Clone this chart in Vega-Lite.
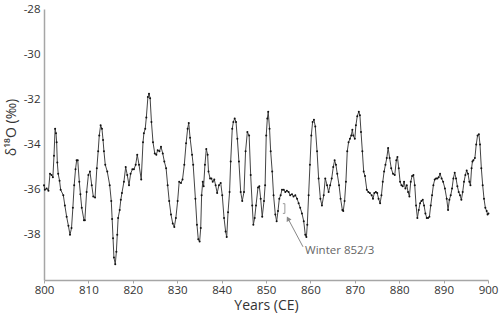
{
  "$schema": "https://vega.github.io/schema/vega-lite/v6.json",
  "width": 444,
  "height": 271,
  "autosize": {"type": "none"},
  "padding": {"left": 44, "top": 9, "right": 12, "bottom": 38},
  "background": "white",
  "config": {"view": {"stroke": null}, "font": "Open Sans"},
  "datasets": {
    "series": [
      {"year": 800.0, "value": -35.8}, {"year": 800.2, "value": -36.0}, {"year": 800.6, "value": -35.95}, {"year": 801.0, "value": -36.05},
      {"year": 801.35, "value": -35.3}, {"year": 801.7, "value": -35.35}, {"year": 802.0, "value": -35.45}, {"year": 802.25, "value": -34.5},
      {"year": 802.5, "value": -33.3}, {"year": 802.7, "value": -33.5}, {"year": 802.85, "value": -33.9}, {"year": 803.0, "value": -34.8},
      {"year": 803.2, "value": -35.3}, {"year": 803.5, "value": -35.6}, {"year": 803.75, "value": -36.0}, {"year": 804.35, "value": -36.25},
      {"year": 804.7, "value": -36.7}, {"year": 805.1, "value": -37.2}, {"year": 805.5, "value": -37.6}, {"year": 805.85, "value": -38.0},
      {"year": 806.2, "value": -37.7}, {"year": 806.5, "value": -36.8}, {"year": 806.8, "value": -35.8}, {"year": 807.1, "value": -35.1},
      {"year": 807.35, "value": -34.7}, {"year": 807.6, "value": -34.7}, {"year": 807.95, "value": -35.65}, {"year": 808.2, "value": -36.2},
      {"year": 808.5, "value": -36.8}, {"year": 809.0, "value": -37.35}, {"year": 809.2, "value": -37.35}, {"year": 809.6, "value": -36.1},
      {"year": 810.0, "value": -35.35}, {"year": 810.35, "value": -35.2}, {"year": 810.75, "value": -35.8}, {"year": 811.1, "value": -36.3},
      {"year": 811.5, "value": -36.35}, {"year": 811.9, "value": -35.05}, {"year": 812.2, "value": -34.3}, {"year": 812.45, "value": -33.6},
      {"year": 812.75, "value": -33.15}, {"year": 813.05, "value": -33.3}, {"year": 813.3, "value": -33.8}, {"year": 813.5, "value": -34.3},
      {"year": 813.8, "value": -34.9}, {"year": 814.25, "value": -35.2}, {"year": 814.8, "value": -35.8}, {"year": 815.15, "value": -36.5},
      {"year": 815.35, "value": -37.3}, {"year": 815.55, "value": -38.15}, {"year": 815.75, "value": -39.0}, {"year": 816.05, "value": -39.3},
      {"year": 816.3, "value": -38.75}, {"year": 816.5, "value": -38.0}, {"year": 816.7, "value": -37.25}, {"year": 817.05, "value": -36.9},
      {"year": 817.3, "value": -36.45}, {"year": 817.55, "value": -36.15}, {"year": 818.0, "value": -35.65}, {"year": 818.4, "value": -35.0},
      {"year": 818.75, "value": -35.35}, {"year": 819.15, "value": -35.8}, {"year": 819.5, "value": -35.3}, {"year": 819.9, "value": -35.1},
      {"year": 820.25, "value": -35.1}, {"year": 820.65, "value": -34.9}, {"year": 821.0, "value": -34.45}, {"year": 821.4, "value": -34.9},
      {"year": 821.9, "value": -35.55}, {"year": 822.3, "value": -33.9}, {"year": 822.5, "value": -33.5}, {"year": 822.8, "value": -33.3},
      {"year": 823.05, "value": -32.8}, {"year": 823.4, "value": -31.9}, {"year": 823.65, "value": -31.75}, {"year": 823.9, "value": -31.95},
      {"year": 824.2, "value": -33.0}, {"year": 824.55, "value": -33.9}, {"year": 824.95, "value": -34.4}, {"year": 825.3, "value": -34.45},
      {"year": 825.6, "value": -34.25}, {"year": 826.0, "value": -34.3}, {"year": 826.35, "value": -34.1}, {"year": 826.75, "value": -34.4},
      {"year": 827.1, "value": -34.75}, {"year": 827.5, "value": -35.05}, {"year": 827.85, "value": -35.8}, {"year": 828.2, "value": -36.5},
      {"year": 828.6, "value": -37.1}, {"year": 829.0, "value": -37.5}, {"year": 829.35, "value": -37.65}, {"year": 829.7, "value": -37.25},
      {"year": 830.1, "value": -36.5}, {"year": 830.45, "value": -35.65}, {"year": 830.85, "value": -35.7}, {"year": 831.2, "value": -35.55},
      {"year": 831.6, "value": -34.9}, {"year": 832.0, "value": -33.95}, {"year": 832.35, "value": -33.3}, {"year": 832.6, "value": -33.05},
      {"year": 832.9, "value": -33.7}, {"year": 833.35, "value": -34.45}, {"year": 833.6, "value": -34.9}, {"year": 834.1, "value": -36.4},
      {"year": 834.45, "value": -37.55}, {"year": 834.75, "value": -38.2}, {"year": 835.05, "value": -38.3}, {"year": 835.3, "value": -37.7},
      {"year": 835.5, "value": -36.25}, {"year": 835.75, "value": -35.65}, {"year": 835.95, "value": -35.85}, {"year": 836.25, "value": -34.9},
      {"year": 836.55, "value": -34.2}, {"year": 836.85, "value": -34.45}, {"year": 837.05, "value": -35.2}, {"year": 837.4, "value": -35.5},
      {"year": 837.7, "value": -35.5}, {"year": 838.0, "value": -35.65}, {"year": 838.35, "value": -35.55}, {"year": 838.65, "value": -35.8},
      {"year": 839.0, "value": -36.15}, {"year": 839.4, "value": -35.8}, {"year": 839.8, "value": -35.7}, {"year": 840.15, "value": -36.25},
      {"year": 840.55, "value": -37.25}, {"year": 840.9, "value": -37.85}, {"year": 841.15, "value": -38.1}, {"year": 841.45, "value": -37.0},
      {"year": 841.8, "value": -36.1}, {"year": 842.05, "value": -34.75}, {"year": 842.4, "value": -33.3}, {"year": 842.65, "value": -33.0},
      {"year": 842.95, "value": -32.85}, {"year": 843.25, "value": -33.0}, {"year": 843.55, "value": -33.75}, {"year": 843.9, "value": -34.75},
      {"year": 844.3, "value": -36.1}, {"year": 844.65, "value": -36.5}, {"year": 845.05, "value": -36.1}, {"year": 845.4, "value": -34.3},
      {"year": 845.8, "value": -33.45}, {"year": 846.2, "value": -33.6}, {"year": 846.55, "value": -35.35}, {"year": 846.9, "value": -36.7},
      {"year": 847.15, "value": -37.55}, {"year": 847.45, "value": -37.25}, {"year": 847.75, "value": -36.7}, {"year": 848.2, "value": -35.9},
      {"year": 848.5, "value": -35.85}, {"year": 848.8, "value": -36.4}, {"year": 849.15, "value": -37.2}, {"year": 849.55, "value": -36.5},
      {"year": 849.8, "value": -35.8}, {"year": 850.05, "value": -33.6}, {"year": 850.3, "value": -32.85}, {"year": 850.5, "value": -32.55},
      {"year": 850.8, "value": -33.3}, {"year": 851.05, "value": -34.3}, {"year": 851.4, "value": -35.2}, {"year": 851.7, "value": -36.25},
      {"year": 852.1, "value": -37.1}, {"year": 852.4, "value": -37.4}, {"year": 852.7, "value": -36.95}, {"year": 853.0, "value": -36.4},
      {"year": 853.3, "value": -36.25}, {"year": 853.6, "value": -36.0}, {"year": 854.0, "value": -36.0}, {"year": 854.35, "value": -36.1},
      {"year": 854.7, "value": -36.05}, {"year": 855.1, "value": -36.1}, {"year": 855.45, "value": -36.25}, {"year": 855.85, "value": -36.2},
      {"year": 856.2, "value": -36.3}, {"year": 856.6, "value": -36.25}, {"year": 857.0, "value": -36.4}, {"year": 857.35, "value": -36.6},
      {"year": 857.7, "value": -36.8}, {"year": 858.1, "value": -37.05}, {"year": 858.5, "value": -37.4}, {"year": 858.85, "value": -38.0},
      {"year": 859.1, "value": -38.1}, {"year": 859.3, "value": -37.55}, {"year": 859.6, "value": -36.25}, {"year": 859.9, "value": -34.9},
      {"year": 860.2, "value": -33.6}, {"year": 860.5, "value": -33.0}, {"year": 860.8, "value": -32.9}, {"year": 861.1, "value": -33.2},
      {"year": 861.5, "value": -34.3}, {"year": 861.85, "value": -35.5}, {"year": 862.25, "value": -36.4}, {"year": 862.6, "value": -36.7},
      {"year": 863.0, "value": -36.25}, {"year": 863.35, "value": -35.5}, {"year": 863.75, "value": -35.8}, {"year": 864.1, "value": -36.1},
      {"year": 864.45, "value": -35.8}, {"year": 864.8, "value": -35.5}, {"year": 865.15, "value": -35.0}, {"year": 865.45, "value": -34.7},
      {"year": 865.75, "value": -34.9}, {"year": 866.05, "value": -35.3}, {"year": 866.45, "value": -35.8}, {"year": 866.8, "value": -36.4},
      {"year": 867.2, "value": -36.9}, {"year": 867.4, "value": -36.95}, {"year": 867.7, "value": -36.5}, {"year": 868.0, "value": -35.65},
      {"year": 868.3, "value": -34.3}, {"year": 868.6, "value": -33.9}, {"year": 868.9, "value": -33.75}, {"year": 869.2, "value": -33.6},
      {"year": 869.45, "value": -33.35}, {"year": 869.65, "value": -33.6}, {"year": 870.0, "value": -33.75}, {"year": 870.25, "value": -33.15},
      {"year": 870.55, "value": -32.75}, {"year": 870.9, "value": -32.55}, {"year": 871.15, "value": -32.7}, {"year": 871.4, "value": -33.45},
      {"year": 871.7, "value": -34.3}, {"year": 872.0, "value": -35.2}, {"year": 872.3, "value": -35.4}, {"year": 872.7, "value": -36.0},
      {"year": 873.05, "value": -36.1}, {"year": 873.4, "value": -36.15}, {"year": 873.8, "value": -36.25}, {"year": 874.1, "value": -36.4},
      {"year": 874.4, "value": -36.15}, {"year": 874.75, "value": -36.1}, {"year": 875.05, "value": -36.15}, {"year": 875.35, "value": -36.4},
      {"year": 875.7, "value": -36.6}, {"year": 876.0, "value": -36.25}, {"year": 876.3, "value": -35.65}, {"year": 876.6, "value": -35.2},
      {"year": 876.9, "value": -34.9}, {"year": 877.2, "value": -34.6}, {"year": 877.5, "value": -34.15}, {"year": 877.85, "value": -34.6},
      {"year": 878.2, "value": -35.05}, {"year": 878.6, "value": -35.3}, {"year": 879.0, "value": -35.35}, {"year": 879.35, "value": -34.7},
      {"year": 879.6, "value": -34.55}, {"year": 879.9, "value": -35.05}, {"year": 880.2, "value": -35.65}, {"year": 880.5, "value": -35.8},
      {"year": 880.8, "value": -35.85}, {"year": 881.1, "value": -35.65}, {"year": 881.4, "value": -35.95}, {"year": 881.7, "value": -35.8},
      {"year": 882.0, "value": -36.1}, {"year": 882.3, "value": -36.3}, {"year": 882.6, "value": -35.65}, {"year": 882.9, "value": -35.4},
      {"year": 883.2, "value": -35.35}, {"year": 883.5, "value": -35.8}, {"year": 883.8, "value": -36.7}, {"year": 884.1, "value": -37.25},
      {"year": 884.4, "value": -36.9}, {"year": 884.7, "value": -36.6}, {"year": 885.0, "value": -36.5}, {"year": 885.3, "value": -36.45},
      {"year": 885.6, "value": -36.7}, {"year": 885.9, "value": -37.05}, {"year": 886.2, "value": -37.25}, {"year": 886.5, "value": -37.25},
      {"year": 886.8, "value": -37.2}, {"year": 887.1, "value": -36.7}, {"year": 887.4, "value": -36.25}, {"year": 887.7, "value": -35.8},
      {"year": 888.0, "value": -35.55}, {"year": 888.3, "value": -35.5}, {"year": 888.6, "value": -35.5}, {"year": 888.9, "value": -35.45},
      {"year": 889.2, "value": -35.3}, {"year": 889.55, "value": -35.5}, {"year": 889.9, "value": -35.65}, {"year": 890.3, "value": -35.95},
      {"year": 890.7, "value": -36.4}, {"year": 891.0, "value": -36.9}, {"year": 891.3, "value": -36.45}, {"year": 891.6, "value": -36.25},
      {"year": 891.9, "value": -35.95}, {"year": 892.2, "value": -35.5}, {"year": 892.5, "value": -35.25}, {"year": 892.8, "value": -35.5},
      {"year": 893.1, "value": -35.85}, {"year": 893.4, "value": -36.1}, {"year": 893.7, "value": -36.25}, {"year": 894.0, "value": -36.45},
      {"year": 894.3, "value": -36.1}, {"year": 894.6, "value": -35.65}, {"year": 894.9, "value": -35.35}, {"year": 895.2, "value": -35.15},
      {"year": 895.5, "value": -35.3}, {"year": 895.8, "value": -35.65}, {"year": 896.05, "value": -35.8}, {"year": 896.3, "value": -35.05},
      {"year": 896.5, "value": -34.75}, {"year": 896.7, "value": -34.7}, {"year": 897.05, "value": -34.6}, {"year": 897.35, "value": -34.0},
      {"year": 897.65, "value": -33.6}, {"year": 897.95, "value": -33.55}, {"year": 898.2, "value": -34.0}, {"year": 898.5, "value": -35.05},
      {"year": 898.8, "value": -35.8}, {"year": 899.1, "value": -36.4}, {"year": 899.4, "value": -36.8}, {"year": 899.7, "value": -36.95},
      {"year": 899.9, "value": -37.1}, {"year": 900.1, "value": -37.05}
    ],
    "bracket": [
      {"year": 853.8, "value": -36.62, "k": 0},
      {"year": 854.25, "value": -36.62, "k": 1},
      {"year": 854.25, "value": -37.05, "k": 2},
      {"year": 853.8, "value": -37.05, "k": 3}
    ],
    "arrow": [
      {"year": 858.33, "value": -38.53, "year2": 854.9, "value2": -37.26}
    ],
    "arrowhead": [
      {"year": 854.95, "value": -37.28}
    ],
    "label": [
      {"year": 858.8, "value": -38.72, "text": "Winter 852/3"}
    ]
  },
  "encoding": {
    "x": {
      "field": "year",
      "type": "quantitative",
      "scale": {"domain": [800, 900], "nice": false, "zero": false},
      "axis": {
        "values": [800, 810, 820, 830, 840, 850, 860, 870, 880, 890, 900],
        "format": "d",
        "grid": false,
        "labelFlush": false,
        "domainColor": "#a6a6a6",
        "domainWidth": 1.5,
        "tickColor": "#a6a6a6",
        "tickSize": 3,
        "labelPadding": 1,
        "labelFontSize": 11.5,
        "labelColor": "#333333",
        "title": "Years (CE)",
        "titleFontSize": 14,
        "titleFontWeight": "normal",
        "titleColor": "#333333",
        "titlePadding": 3
      }
    },
    "y": {
      "field": "value",
      "type": "quantitative",
      "scale": {"domain": [-40, -28], "nice": false, "zero": false},
      "axis": {
        "values": [-38, -36, -34, -32, -30, -28],
        "labelExpr": "'-' + abs(datum.value)",
        "grid": false,
        "ticks": false,
        "labelFlush": false,
        "domainColor": "#a6a6a6",
        "domainWidth": 1.5,
        "labelPadding": 4,
        "labelFontSize": 11.5,
        "labelColor": "#333333",
        "title": "δ¹⁸O (‰)",
        "titleFontSize": 14,
        "titleFontWeight": "normal",
        "titleColor": "#333333",
        "titleBaseline": "top",
        "titleX": -40,
        "titleY": 118
      }
    }
  },
  "layer": [
    {
      "data": {"name": "series"},
      "mark": {"type": "line", "color": "#444444", "strokeWidth": 1, "point": {"filled": true, "size": 4, "color": "#111111"}}
    },
    {
      "data": {"name": "bracket"},
      "mark": {"type": "line", "color": "#999999", "strokeWidth": 1},
      "encoding": {"order": {"field": "k", "type": "ordinal"}}
    },
    {
      "data": {"name": "arrow"},
      "mark": {"type": "rule", "color": "#888888", "strokeWidth": 1},
      "encoding": {"x2": {"field": "year2"}, "y2": {"field": "value2"}}
    },
    {
      "data": {"name": "arrowhead"},
      "mark": {"type": "point", "shape": "triangle-up", "angle": 332, "size": 30, "filled": true, "color": "#888888", "opacity": 1}
    },
    {
      "data": {"name": "label"},
      "mark": {"type": "text", "align": "left", "baseline": "middle", "fontSize": 11.5, "color": "#666666"},
      "encoding": {"text": {"field": "text"}}
    }
  ]
}
